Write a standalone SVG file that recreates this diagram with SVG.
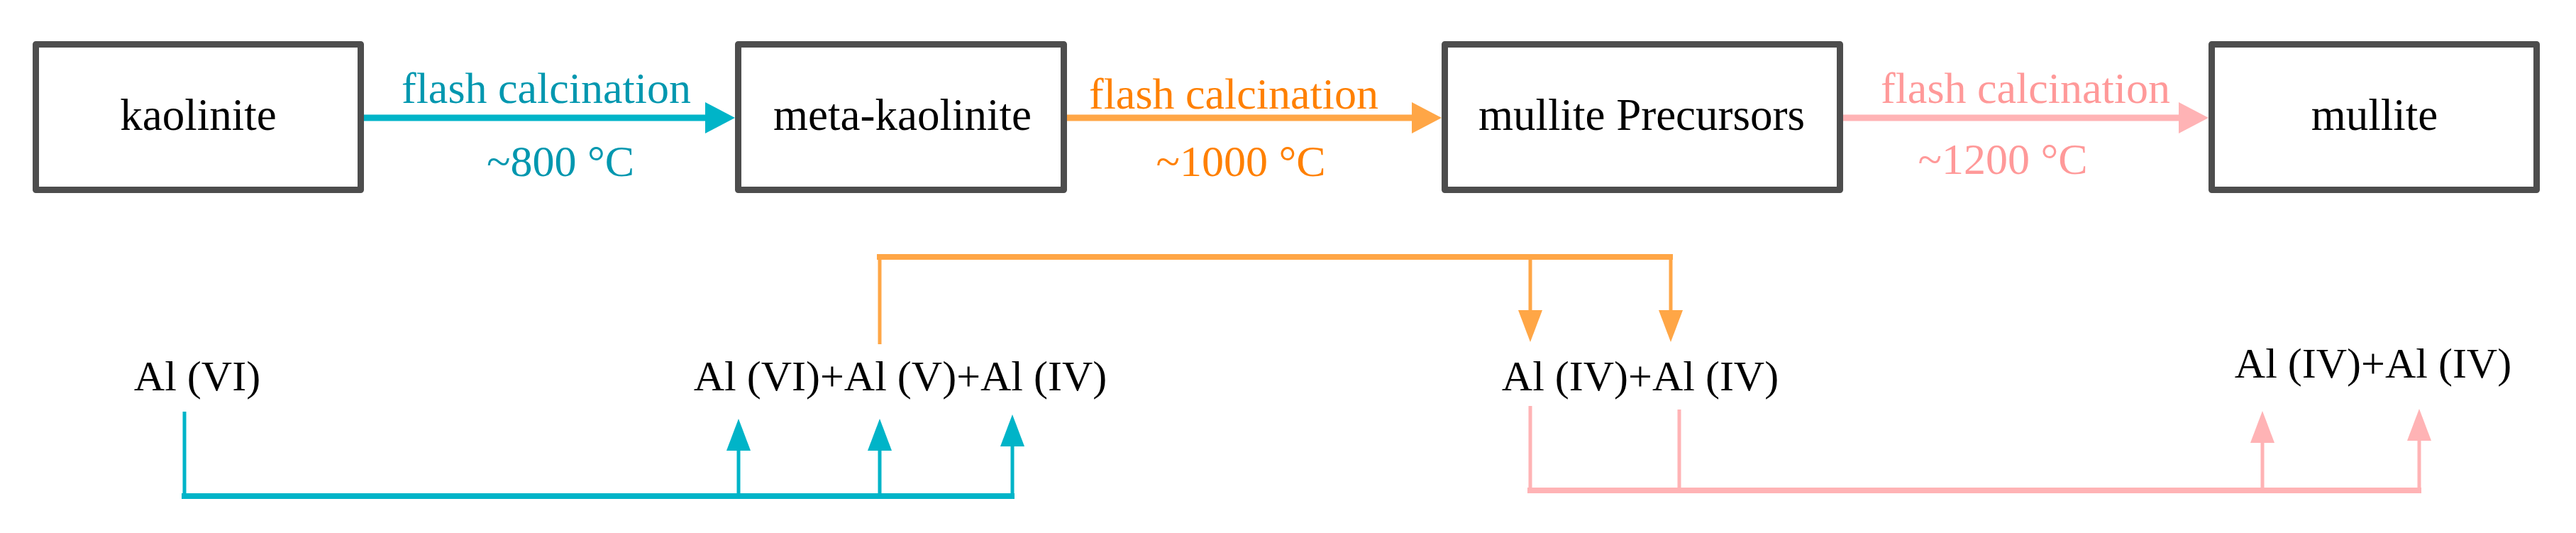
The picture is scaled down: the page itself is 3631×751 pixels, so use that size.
<svg xmlns="http://www.w3.org/2000/svg" width="3631" height="751" viewBox="0 0 3631 751">
<style>
.box{fill:#fff;stroke:#4d4d4d;stroke-width:9;stroke-linejoin:round}
.nt{font-family:"Liberation Serif","Times New Roman",serif;font-size:63px;fill:#000;text-anchor:middle}
.lb{font-family:"Liberation Serif","Times New Roman",serif;font-size:62px;text-anchor:middle}
.al{font-family:"Liberation Serif","Times New Roman",serif;font-size:60px;fill:#000;text-anchor:middle}
.tealT{fill:#0097af}.oranT{fill:#ff8000}.pinkT{fill:#ff9999}
.teal{stroke:#00b4c8;fill:none}.oran{stroke:#ffa646;fill:none}.pink{stroke:#ffb3b5;fill:none}
.main{stroke-width:9}.bar{stroke-width:8}.thin{stroke-width:5}
</style>
<defs>
<marker id="hT" markerUnits="userSpaceOnUse" viewBox="0 0 42 44" refX="0" refY="22" markerWidth="42" markerHeight="44" orient="auto"><path d="M0,0L42,22L0,44z" fill="#00b4c8"/></marker>
<marker id="hO" markerUnits="userSpaceOnUse" viewBox="0 0 42 44" refX="0" refY="22" markerWidth="42" markerHeight="44" orient="auto"><path d="M0,0L42,22L0,44z" fill="#ffa646"/></marker>
<marker id="hP" markerUnits="userSpaceOnUse" viewBox="0 0 42 44" refX="0" refY="22" markerWidth="42" markerHeight="44" orient="auto"><path d="M0,0L42,22L0,44z" fill="#ffb3b5"/></marker>
<marker id="sT" markerUnits="userSpaceOnUse" viewBox="0 0 45 34" refX="0" refY="17" markerWidth="45" markerHeight="34" orient="auto"><path d="M0,0L45,17L0,34z" fill="#00b4c8"/></marker>
<marker id="sO" markerUnits="userSpaceOnUse" viewBox="0 0 45 34" refX="0" refY="17" markerWidth="45" markerHeight="34" orient="auto"><path d="M0,0L45,17L0,34z" fill="#ffa646"/></marker>
<marker id="sP" markerUnits="userSpaceOnUse" viewBox="0 0 45 34" refX="0" refY="17" markerWidth="45" markerHeight="34" orient="auto"><path d="M0,0L45,17L0,34z" fill="#ffb3b5"/></marker>
</defs>
<rect width="3631" height="751" fill="#fff"/>

<g id="connectors">
<line class="teal main" x1="510" y1="166" x2="994" y2="166" marker-end="url(#hT)"/>
<line class="oran main" x1="1500" y1="166" x2="1990" y2="166" marker-end="url(#hO)"/>
<line class="pink main" x1="2595" y1="166" x2="3071" y2="166" marker-end="url(#hP)"/>

<line class="teal thin" x1="260" y1="580" x2="260" y2="699"/>
<line class="teal bar" x1="256" y1="699" x2="1430" y2="699"/>
<line class="teal thin" x1="1041" y1="699" x2="1041" y2="635" marker-end="url(#sT)"/>
<line class="teal thin" x1="1240" y1="699" x2="1240" y2="635" marker-end="url(#sT)"/>
<line class="teal thin" x1="1427" y1="699" x2="1427" y2="629" marker-end="url(#sT)"/>

<line class="oran thin" x1="1240" y1="485" x2="1240" y2="362"/>
<line class="oran bar" x1="1236" y1="362" x2="2358" y2="362"/>
<line class="oran thin" x1="2157" y1="366" x2="2157" y2="437" marker-end="url(#sO)"/>
<line class="oran thin" x1="2355" y1="362" x2="2355" y2="437" marker-end="url(#sO)"/>

<line class="pink thin" x1="2157" y1="572" x2="2157" y2="691"/>
<line class="pink thin" x1="2367" y1="577" x2="2367" y2="691"/>
<line class="pink bar" x1="2153" y1="691" x2="3413" y2="691"/>
<line class="pink thin" x1="3189" y1="691" x2="3189" y2="624" marker-end="url(#sP)"/>
<line class="pink thin" x1="3410" y1="691" x2="3410" y2="621" marker-end="url(#sP)"/>

<text class="lb tealT" x="770" y="145">flash calcination</text>
<text class="lb tealT" x="790" y="248">~800 °C</text>
<text class="lb oranT" x="1739" y="153">flash calcination</text>
<text class="lb oranT" x="1749" y="248">~1000 °C</text>
<text class="lb pinkT" x="2855" y="145">flash calcination</text>
<text class="lb pinkT" x="2823" y="245">~1200 °C</text>
</g>

<g id="kaolinite">
<rect class="box" x="50.5" y="62.5" width="458" height="205"/>
<text class="nt" x="279.5" y="183">kaolinite</text>
</g>
<g id="meta-kaolinite">
<rect class="box" x="1040.5" y="62.5" width="459" height="205"/>
<text class="nt" x="1272" y="183">meta-kaolinite</text>
</g>
<g id="mullite-precursors">
<rect class="box" x="2036.5" y="62.5" width="557" height="205"/>
<text class="nt" x="2314" y="183">mullite Precursors</text>
</g>
<g id="mullite">
<rect class="box" x="3117.5" y="62.5" width="458" height="205"/>
<text class="nt" x="3347" y="183">mullite</text>
</g>

<g id="al-vi">
<text class="al" x="278" y="550">Al (VI)</text>
</g>
<g id="al-mix">
<text class="al" x="1269" y="550">Al (VI)+Al (V)+Al (IV)</text>
</g>
<g id="al-iv-1">
<text class="al" x="2312" y="550">Al (IV)+Al (IV)</text>
</g>
<g id="al-iv-2">
<text class="al" x="3345" y="532">Al (IV)+Al (IV)</text>
</g>
</svg>
